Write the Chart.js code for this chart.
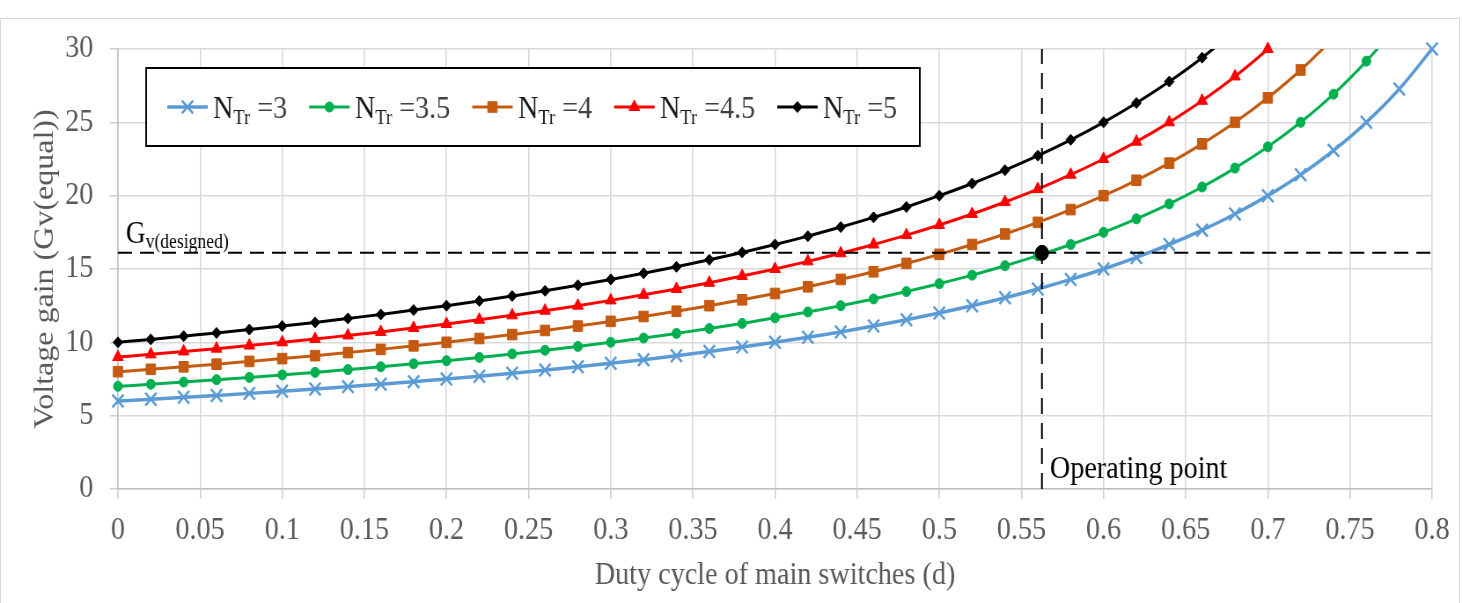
<!DOCTYPE html>
<html><head><meta charset="utf-8">
<script src="https://cdn.jsdelivr.net/npm/chart.js@4.4.1/dist/chart.umd.min.js"></script>
<style>
html,body{margin:0;padding:0;background:#fff;overflow:hidden;width:1462px;height:603px}
#frame{position:absolute;left:0;top:18px;width:1460px;height:640px;border:1.5px solid #d9d9d9;box-sizing:border-box}
#wrap{position:absolute;left:0;top:0;width:1661px;height:603px;transform:scaleX(0.88019);transform-origin:0 0}
</style></head><body>
<div id="frame"></div>
<div id="wrap"><canvas id="c"></canvas></div>
<script>
// ---- data ----
const dutyCycle = [0,0.02,0.04,0.06,0.08,0.1,0.12,0.14,0.16,0.18,0.2,0.22,0.24,0.26,0.28,0.3,0.32,0.34,0.36,0.38,0.4,0.42,0.44,0.46,0.48,0.5,0.52,0.54,0.56,0.58,0.6,0.62,0.64,0.66,0.68,0.7,0.72,0.74,0.76,0.78,0.8];
const gainN3   = [6.00,6.12,6.25,6.38,6.52,6.67,6.82,6.98,7.14,7.32,7.50,7.69,7.89,8.11,8.33,8.57,8.82,9.09,9.38,9.68,10.00,10.34,10.71,11.11,11.54,12.00,12.50,13.04,13.64,14.29,15.00,15.79,16.67,17.65,18.75,20.00,21.43,23.08,25.00,27.27,30.00];
const gainN3_5 = [7.00,7.14,7.29,7.45,7.61,7.78,7.95,8.14,8.33,8.54,8.75,8.97,9.21,9.46,9.72,10.00,10.29,10.61,10.94,11.29,11.67,12.07,12.50,12.96,13.46,14.00,14.58,15.22,15.91,16.67,17.50,18.42,19.44,20.59,21.88,23.33,25.00,26.92,29.17,31.82,35.00];
const gainN4   = [8.00,8.16,8.33,8.51,8.70,8.89,9.09,9.30,9.52,9.76,10.00,10.26,10.53,10.81,11.11,11.43,11.76,12.12,12.50,12.90,13.33,13.79,14.29,14.81,15.38,16.00,16.67,17.39,18.18,19.05,20.00,21.05,22.22,23.53,25.00,26.67,28.57,30.77,33.33,36.36,40.00];
const gainN4_5 = [9.00,9.18,9.38,9.57,9.78,10.00,10.23,10.47,10.71,10.98,11.25,11.54,11.84,12.16,12.50,12.86,13.24,13.64,14.06,14.52,15.00,15.52,16.07,16.67,17.31,18.00,18.75,19.57,20.45,21.43,22.50,23.68,25.00,26.47,28.13,30.00,32.14,34.62,37.50,40.91,45.00];
const gainN5   = [10.00,10.20,10.42,10.64,10.87,11.11,11.36,11.63,11.90,12.20,12.50,12.82,13.16,13.51,13.89,14.29,14.71,15.15,15.63,16.13,16.67,17.24,17.86,18.52,19.23,20.00,20.83,21.74,22.73,23.81,25.00,26.32,27.78,29.41,31.25,33.33,35.71,38.46,41.67,45.45,50.00];
const seriesLabels = ['3','3.5','4','4.5','5'];
const xTicks = [0,0.05,0.1,0.15,0.2,0.25,0.3,0.35,0.4,0.45,0.5,0.55,0.6,0.65,0.7,0.75,0.8];
const yTicks = [0,5,10,15,20,25,30];
const operatingPoint = {d:0.5625, g:16.1};
const yMax = 30, xMax = 0.8;

// ---- styles ----
const FONT = '"Liberation Serif","Times New Roman",serif';
const styles = [
  {color:'#5B9BD5', style:'crossRot', r:9,   bw:2.5, lw:3.5},
  {color:'#00B050', style:'circle',   r:5,   bw:1,   lw:3},
  {color:'#C55A11', style:'rect',     r:7.5, bw:1,   lw:3},
  {color:'#FF0000', style:'triangle', r:7,   bw:1,   lw:3},
  {color:'#000000', style:'rectRot',  r:5.5, bw:1,   lw:3}
];
const allSeries = [gainN3, gainN3_5, gainN4, gainN4_5, gainN5];

const datasets = [];
// operating point dot
datasets.push({type:'scatter', data:[{x:operatingPoint.d, y:operatingPoint.g}], pointRadius:7.5,
  pointBackgroundColor:'#000', pointBorderColor:'#000', showLine:false, clip:false, order:0});
// dashed guide lines
datasets.push({data:[{x:0,y:operatingPoint.g},{x:xMax,y:operatingPoint.g}], borderColor:'#000', borderWidth:2,
  borderDash:[16,9], pointRadius:0, clip:0, order:1, tension:0});
datasets.push({data:[{x:operatingPoint.d,y:0},{x:operatingPoint.d,y:yMax}], borderColor:'#000', borderWidth:2,
  borderDash:[16,9], pointRadius:0, clip:0, order:1, tension:0});
allSeries.forEach((arr, i) => {
  const st = styles[i];
  const pts = dutyCycle.map((d, k) => ({x:d, y:arr[k]}));
  datasets.push({data:pts, showLine:false, clip:false, order:2,
    pointStyle:st.style, pointBackgroundColor:st.color, pointBorderColor:st.color, pointBorderWidth:st.bw,
    pointRadius:(c) => (c.raw && c.raw.y > yMax + 1e-9) ? 0 : st.r});
  datasets.push({data:pts, showLine:true, clip:0, order:3, borderColor:st.color, borderWidth:st.lw,
    pointRadius:0, cubicInterpolationMode:'monotone', fill:false});
});

const overlay = {
  id:'overlay',
  afterDraw(chart){
    const {ctx} = chart; const xs = chart.scales.x, ys = chart.scales.y;
    ctx.save();
    ctx.textAlign = 'left'; ctx.textBaseline = 'alphabetic'; ctx.fillStyle = '#000';
    // G_v(designed)
    const gx = xs.getPixelForValue(0) + 9, gy = ys.getPixelForValue(operatingPoint.g) - 10;
    ctx.font = '31px ' + FONT; ctx.fillText('G', gx, gy);
    const gw = ctx.measureText('G').width;
    ctx.font = '20px ' + FONT; ctx.fillText('v(designed)', gx + gw, gy + 5);
    // Operating point
    ctx.font = '32px ' + FONT;
    ctx.fillText('Operating point', xs.getPixelForValue(operatingPoint.d) + 9, ys.getPixelForValue(0) - 11);
    // legend box
    const bx = 166, by = 68, bw = 879, bh = 78;
    ctx.fillStyle = '#fff'; ctx.fillRect(bx, by, bw, bh);
    ctx.strokeStyle = '#000'; ctx.lineWidth = 2; ctx.strokeRect(bx, by, bw, bh);
    let x = 190; const cy = by + 39;
    seriesLabels.forEach((lab, i) => {
      const st = styles[i];
      ctx.strokeStyle = st.color; ctx.lineWidth = st.lw;
      ctx.beginPath(); ctx.moveTo(x, cy); ctx.lineTo(x + 46, cy); ctx.stroke();
      ctx.fillStyle = st.color; ctx.lineWidth = st.bw;
      Chart.helpers.drawPoint(ctx, {pointStyle:st.style, radius:st.r, rotation:0, borderWidth:st.bw}, x + 23, cy);
      x += 52;
      const base = cy + 11;
      ctx.fillStyle = '#1a1a1a';
      ctx.font = '32px ' + FONT; ctx.fillText('N', x, base); x += ctx.measureText('N').width;
      ctx.font = '21px ' + FONT; ctx.fillText('Tr', x, base + 6); x += ctx.measureText('Tr').width;
      ctx.fillStyle = '#404040';
      ctx.font = '32px ' + FONT; const t = ' =' + lab; ctx.fillText(t, x, base); x += ctx.measureText(t).width;
      x += 25;
    });
    ctx.restore();
  }
};

new Chart(document.getElementById('c'), {
  type:'line',
  data:{datasets},
  options:{
    responsive:true, maintainAspectRatio:false, animation:false, events:[],
    layout:{padding:{left:0, right:34, top:49, bottom:0}},
    plugins:{legend:{display:false}, tooltip:{enabled:false}},
    scales:{
      x:{type:'linear', min:0, max:xMax,
        afterBuildTicks:(s) => { s.ticks = xTicks.map(v => ({value:v})); },
        afterFit:(s) => { s.height = 114; },
        ticks:{autoSkip:false, maxRotation:0, padding:12, color:'#595959', font:{family:FONT, size:32},
          callback:(v) => String(v)},
        grid:{color:'#d9d9d9', lineWidth:1.6, tickLength:10, tickColor:'#d0d0d0'},
        border:{color:'#bfbfbf', width:1.6},
        title:{display:true, text:'Duty cycle of main switches (d)', color:'#595959',
          font:{family:FONT, size:32}, padding:{top:0, bottom:8}}
      },
      y:{type:'linear', min:0, max:yMax,
        afterBuildTicks:(s) => { s.ticks = yTicks.map(v => ({value:v})); },
        afterFit:(s) => { s.width = 134; },
        ticks:{padding:19, color:'#595959', font:{family:FONT, size:32}},
        grid:{color:'#d9d9d9', lineWidth:1.6, tickLength:9, tickColor:'#d0d0d0'},
        border:{color:'#bfbfbf', width:1.6},
        title:{display:true, text:'Voltage gain (Gv(equal))', color:'#595959',
          font:{family:FONT, size:32}, padding:{top:32, bottom:0}}
      }
    }
  },
  plugins:[overlay]
});
</script>
</body></html>
